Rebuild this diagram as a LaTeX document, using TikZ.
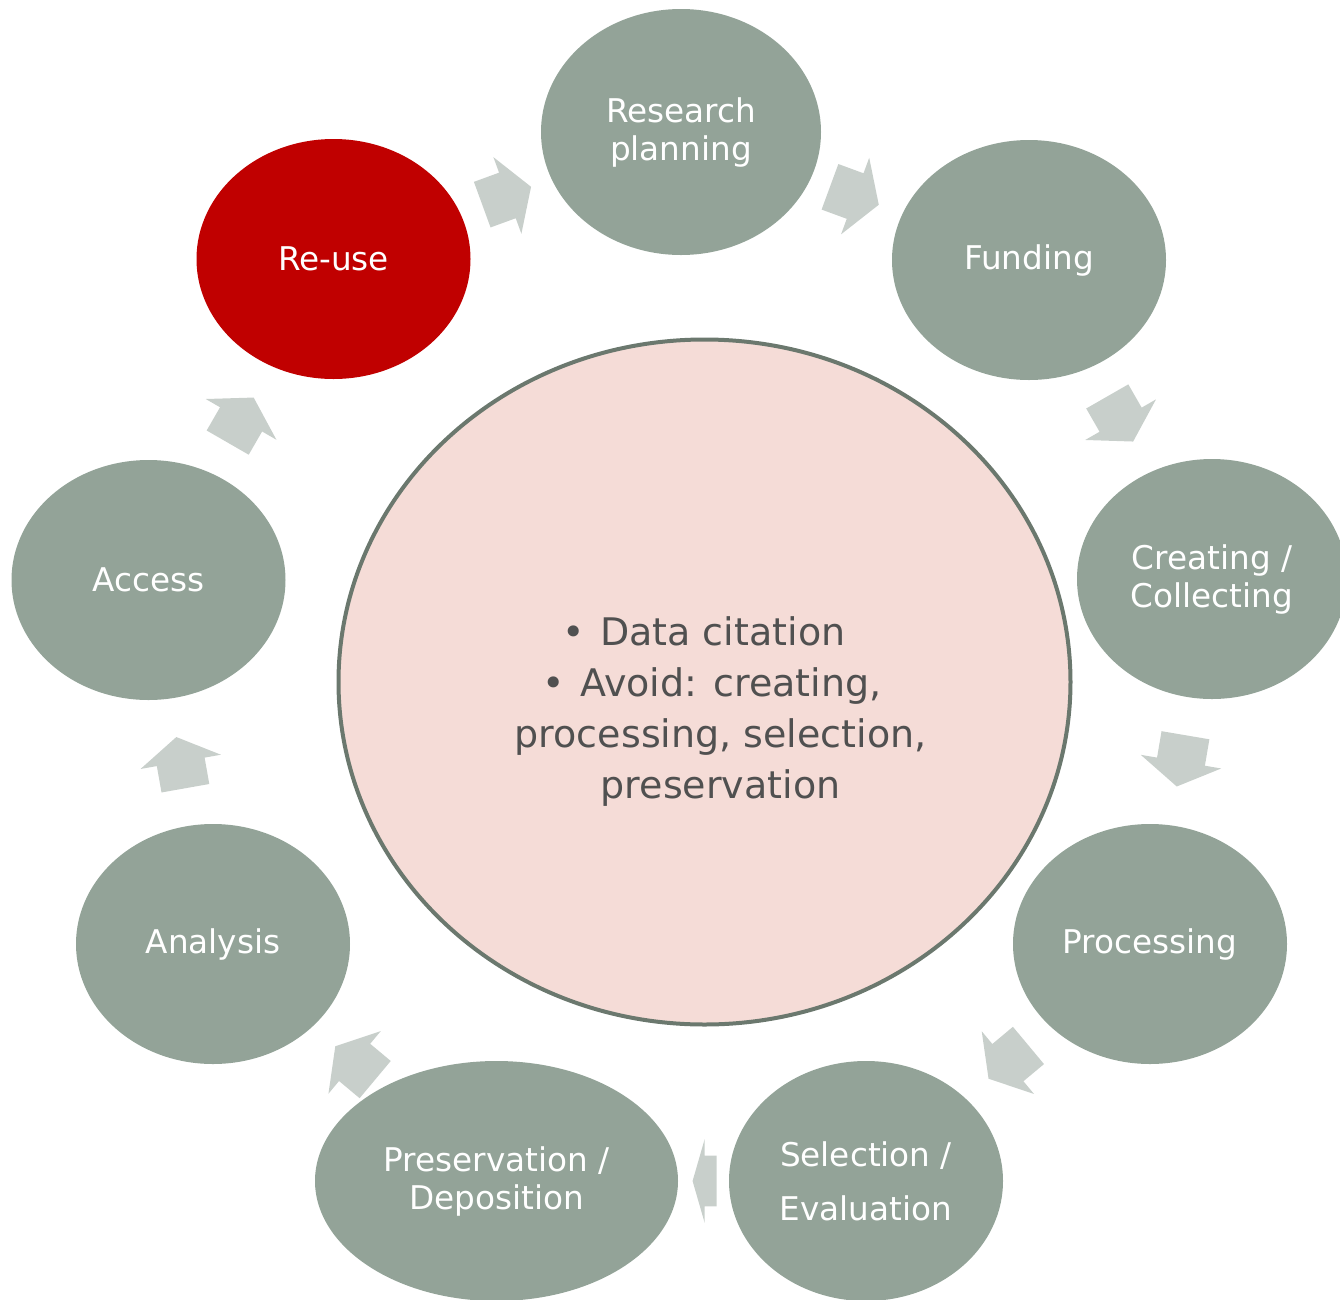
\documentclass[tikz,border=0pt]{standalone}
\usepackage{fontspec}
\setmainfont{DejaVu Sans}
\usetikzlibrary{shapes.geometric,shapes.arrows}
\definecolor{stagec}{HTML}{93A398}
\definecolor{reusec}{HTML}{C00000}
\definecolor{arrowc}{HTML}{C8CFCB}
\definecolor{centerc}{HTML}{F5DCD7}
\definecolor{ringc}{HTML}{6B786E}
\definecolor{textc}{HTML}{505050}
\begin{document}
\begin{tikzpicture}[x=0.75pt,y=-0.75pt,
  stage/.style={ellipse, fill=stagec, draw=none, text=white, inner sep=0pt,
    minimum width=205.5pt, minimum height=180pt, align=center,
    font=\fontsize{24.5}{28.5}\selectfont},
  flow/.style={single arrow, fill=arrowc, draw=none, inner xsep=0pt, inner ysep=18pt,
    minimum height=39pt, minimum width=60.75pt,
    single arrow head extend=12.4pt, single arrow tip angle=116.6,
    sloped, allow upside down, pos=0.478},
  shortflow/.style={flow, minimum height=18pt, minimum width=62.25pt,
    inner ysep=18.75pt, single arrow tip angle=147.8, pos=0.427},
]
\clip (0,0) rectangle (1340,1300);
% central circle
\node[ellipse, draw=ringc, line width=3pt, fill=centerc, inner sep=0pt,
  minimum width=549pt, minimum height=513.75pt] (core) at (704.5,682) {};
\node[text=textc, align=center, inner sep=0pt,
  font=\fontsize{28.5}{38.25}\selectfont] (notes) at (712,712)
  {•\hspace{0.4em}Data citation\hspace*{12pt}\\
   •\hspace{0.4em}Avoid: creating,\hspace*{12pt}\\
   \hspace*{13pt}processing, selection,\\
   \hspace*{13pt}preservation};
% stages
\node[stage, minimum width=210pt, minimum height=184.5pt] (plan) at (681,132) {Research\\planning};
\node[stage] (fund) at (1029,260) {Funding};
\node[stage, minimum width=202.5pt] (create) at (1212,579) {Creating /\\Collecting};
\node[stage] (proc) at (1150,944) {Processing};
\node[stage, font=\fontsize{24.5}{40.5}\selectfont] (sel) at (866,1181) {Selection /\\Evaluation};
\node[stage, minimum width=272.25pt] (pres) at (496.5,1181) {Preservation /\\Deposition};
\node[stage] (anal) at (213,944) {Analysis};
\node[stage] (access) at (148.5,580) {Access};
\node[stage, fill=reusec] (reuse) at (333.5,259) {Re-use};
% arrows
\path (reuse.center) -- (plan.center) node[flow] (a1) {};
\path (plan.center) -- (fund.center) node[flow] (a2) {};
\path (fund.center) -- (create.center) node[flow] (a3) {};
\path (create.center) -- (proc.center) node[flow] (a4) {};
\path (proc.center) -- (sel.center) node[flow] (a5) {};
\path (sel.center) -- (pres.center) node[shortflow] (a6) {};
\path (pres.center) -- (anal.center) node[flow] (a7) {};
\path (anal.center) -- (access.center) node[flow] (a8) {};
\path (access.center) -- (reuse.center) node[flow] (a9) {};
\end{tikzpicture}
\end{document}
